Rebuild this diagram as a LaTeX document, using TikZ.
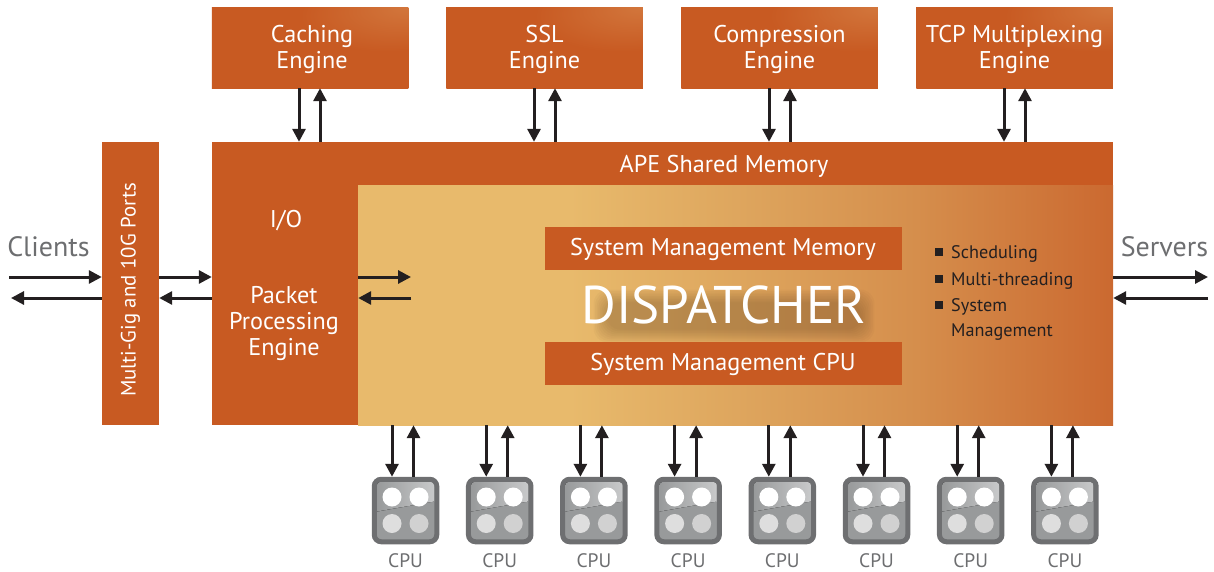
\documentclass[tikz,border=0pt]{standalone}
\usepackage{fontspec}
\setmainfont{PT Sans}
\usetikzlibrary{arrows.meta,calc}
\definecolor{rust}{HTML}{C85A22}
\definecolor{rustlight}{HTML}{D2763C}
\definecolor{sand}{HTML}{E8BA6C}
\definecolor{midsand}{HTML}{DEA65E}
\definecolor{midsandb}{HTML}{D58E4C}
\definecolor{burnt}{HTML}{CB6930}
\definecolor{ink}{HTML}{231F20}
\definecolor{labelgray}{HTML}{6D6E70}
\definecolor{cpuedge}{HTML}{6E6F71}
\definecolor{cpubase}{HTML}{989A9B}
\definecolor{cpugloss}{HTML}{C8C9CA}
\pgfdeclarehorizontalshading{dispsh}{100bp}{color(0bp)=(sand);color(25bp)=(sand);color(39bp)=(sand);color(50bp)=(midsand);color(62bp)=(midsandb);color(75bp)=(burnt);color(100bp)=(burnt)}
\pgfdeclareradialshading{boxsh}{\pgfpoint{25bp}{25bp}}{color(0bp)=(rustlight);color(22bp)=(rust);color(100bp)=(rust)}
\newcommand{\upstrut}{\rule{0pt}{21.5pt}}
\tikzset{
  x=1pt,y=-1pt,
  blockbox/.style={fill=rust,inner sep=0pt,text=white,align=center,draw=none,font=\fontsize{24.2}{26}\selectfont},
  enginebox/.style={blockbox,shading=boxsh,minimum width=196.5pt,minimum height=81pt},
  midbox/.style={blockbox,minimum width=357pt,minimum height=43pt},
  arr/.style={draw=ink,line width=3pt,-{Triangle[length=13pt,width=13pt]}},
  wtxt/.style={text=white,align=center,inner sep=0pt,font=\fontsize{24.2}{26}\selectfont},
  bullettxt/.style={anchor=west,inner sep=0pt,text=ink,font=\fontsize{18.2}{18}\selectfont},
  bulletsq/.style={fill=ink,minimum size=8pt,inner sep=0pt},
  cpubody/.style={draw=cpuedge,line width=5pt,rounded corners=7pt,fill=cpubase,minimum size=62.5pt,inner sep=0pt},
  extlabel/.style={inner sep=0pt,text=labelgray,font=\fontsize{28}{28}\selectfont},
  cpulabel/.style={inner sep=0pt,text=labelgray,font=\fontsize{19.5}{19.5}\selectfont},
}
\begin{document}
\begin{tikzpicture}
\useasboundingbox (0,0) rectangle (1214,571);
% main blocks
\node[blockbox,minimum width=755pt,minimum height=240pt,shading=dispsh] (disp) at (735.5,305) {};
\node[blockbox,minimum width=901pt,minimum height=43pt] (mem) at (662.5,163.5) {};
\node[blockbox,minimum width=146pt,minimum height=240pt] (io) at (285,305) {};
\node[blockbox,minimum width=57pt,minimum height=283pt] (ports) at (130.5,283.5) {};
\node[wtxt,rotate=90,font=\fontsize{20.8}{26}\selectfont] (portstxt) at (130.5,290) {Multi-Gig and 10G Ports};
\node[wtxt] (memtxt) at (724,166.5) {APE Shared Memory};
\node[wtxt] (iotxt) at (286,221) {I/O};
\node[wtxt] (pkttxt) at (284,323.5) {Packet\\Processing\\Engine};
% engines
\node[enginebox] (e1) at (310,47.5) {\upstrut\hspace*{4pt}Caching\\\hspace*{4pt}Engine};
\node[enginebox] (e2) at (544.5,47.5) {\upstrut SSL\\Engine};
\node[enginebox] (e3) at (779.5,47.5) {\upstrut Compression\\Engine};
\node[enginebox] (e4) at (1014.5,47.5) {\upstrut TCP Multiplexing\\Engine};
\foreach \n/\a/\b in {e1/299/320,e2/534/555,e3/769/790,e4/1004/1025}{
  \coordinate (xa) at (\a,0);
  \coordinate (xb) at (\b,0);
  \draw[arr] (xa |- \n.south) -- (xa |- mem.north);
  \draw[arr] (xb |- mem.north) -- (xb |- \n.south);
}
% dispatcher contents
\foreach \k in {1,...,9}{
  \fill[black!55!brown,opacity=0.035,rounded corners=14pt]
    ($(590,286)+(\k*1.6+2,\k*1.6+2)$) rectangle ($(876,344)-(\k*1.6,\k*1.6)$);
}
\node[midbox] (smm) at (723.5,248.5) {};
\node[wtxt] (smmtxt) at (723,249.5) {System Management Memory};
\node[midbox] (smc) at (723.5,363.5) {};
\node[wtxt] (smctxt) at (723,364.5) {System Management CPU};
\node[text=white,inner sep=0pt,font=\fontsize{53}{53}\selectfont] (dtxt) at (724,305) {DISPATCHER};
\node[bulletsq] (b1) at (939,252) {};
\node[bulletsq] (b2) at (939,279) {};
\node[bulletsq] (b3) at (939,305) {};
\node[bullettxt] (t1) at (951,253.5) {Scheduling};
\node[bullettxt] (t2) at (951,280.5) {Multi-threading};
\node[bullettxt] (t3) at (951,306.5) {System};
\node[bullettxt] (t4) at (951,332.5) {Management};
% side labels and arrows
\node[extlabel] (clients) at (48.5,247) {Clients};
\node[extlabel] (servers) at (1164.5,247) {Servers};
\coordinate (cl1) at (9,277);
\coordinate (cl2) at (11,298);
\coordinate (sv1) at (1208,277);
\coordinate (sv2) at (1208,298);
\coordinate (dp1) at (411,277);
\coordinate (dp2) at (411,298);
\draw[arr] (cl1) -- (cl1 -| ports.west);
\draw[arr] (cl2 -| ports.west) -- (cl2);
\draw[arr] (cl1 -| ports.east) -- (cl1 -| io.west);
\draw[arr] (cl2 -| io.west) -- (cl2 -| ports.east);
\draw[arr] (dp1 -| io.east) -- (dp1);
\draw[arr] (dp2) -- (dp2 -| io.east);
\draw[arr] (sv1 -| disp.east) -- (sv1);
\draw[arr] (sv2) -- (sv2 -| disp.east);
% CPUs
\foreach \i/\x in {1/405.5,2/499.7,3/593.9,4/688.1,5/782.3,6/876.5,7/970.7,8/1064.9}{
  \node[cpubody] (cpu\i) at (\x,510.5) {};
  \begin{scope}
    \clip[rounded corners=3pt] ($(cpu\i.center)+(-28.5,-28.5)$) rectangle ($(cpu\i.center)+(28.5,28.5)$);
    \fill[left color=cpubase,right color=cpugloss] ($(cpu\i.center)+(-28.5,-28.5)$) -- ($(cpu\i.center)+(28.5,-28.5)$) -- ($(cpu\i.center)+(28.5,-9)$) -- ($(cpu\i.center)+(-28.5,1)$) -- cycle;
  \end{scope}
  \fill[white] ($(cpu\i.center)+(-13.5,-13.5)$) circle (9.5pt);
  \fill[white] ($(cpu\i.center)+(13.5,-13.5)$) circle (9.5pt);
  \fill[white!87!black] ($(cpu\i.center)+(-13.5,13)$) circle (9.5pt);
  \fill[white!82!black] ($(cpu\i.center)+(13.5,13)$) circle (9.5pt);
  \coordinate (xd) at ($(cpu\i.center)+(-13.5,0)$);
  \coordinate (xu) at ($(cpu\i.center)+(8,0)$);
  \draw[arr] (xd |- disp.south) -- (xd |- cpu\i.north);
  \draw[arr] (xu |- cpu\i.north) -- (xu |- disp.south);
  \node[cpulabel] (lab\i) at ($(cpu\i.center)+(0,50)$) {CPU};
}
\end{tikzpicture}
\end{document}
